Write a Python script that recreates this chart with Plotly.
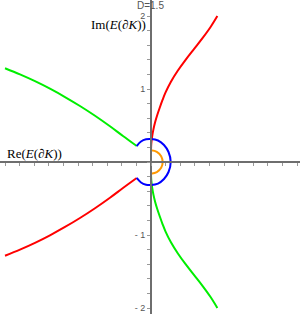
import plotly.graph_objects as go

# ---- data (data units) ----
red_up_x = [0.0, 0.004, 0.016, 0.034, 0.058, 0.088, 0.122, 0.158, 0.198, 0.273, 0.366, 0.474, 0.591, 0.708, 0.816, 0.909]
red_up_y = [0.164, 0.25, 0.35, 0.45, 0.55, 0.65, 0.75, 0.85, 0.95, 1.10, 1.25, 1.40, 1.55, 1.70, 1.85, 2.00]

green_dn_x = [0.0, 0.004, 0.016, 0.034, 0.058, 0.088, 0.122, 0.158, 0.198, 0.273, 0.366, 0.474, 0.591, 0.708, 0.816, 0.909]
green_dn_y = [-0.164, -0.25, -0.35, -0.45, -0.55, -0.65, -0.75, -0.85, -0.95, -1.10, -1.25, -1.40, -1.55, -1.70, -1.85, -2.00]

green_up_x = [-2.000, -1.795, -1.589, -1.384, -1.178, -0.973, -0.767, -0.562, -0.384, -0.196]
green_up_y = [1.284, 1.200, 1.107, 1.004, 0.890, 0.767, 0.633, 0.489, 0.356, 0.219]

red_dn_x = [-2.000, -1.795, -1.589, -1.384, -1.178, -0.973, -0.767, -0.562, -0.384, -0.196]
red_dn_y = [-1.284, -1.200, -1.107, -1.004, -0.890, -0.767, -0.633, -0.489, -0.356, -0.219]

blue_x = [-0.196, -0.137, -0.068, 0.0, 0.096, 0.178, 0.240, 0.270, 0.240, 0.178, 0.096, 0.0, -0.068, -0.137, -0.196]
blue_y = [0.219, 0.281, 0.311, 0.315, 0.295, 0.233, 0.137, 0.0, -0.137, -0.233, -0.295, -0.315, -0.311, -0.281, -0.219]

orange_x = [0.0, 0.080, 0.139, 0.160, 0.139, 0.080, 0.0]
orange_y = [0.160, 0.139, 0.080, 0.0, -0.080, -0.139, -0.160]

y_tick_vals = [round(-2 + 0.2 * i, 1) for i in range(21)]
y_tick_text = {-2.0: "- 2", -1.0: "- 1", 1.0: "1", 2.0: "2"}
x_tick_vals = [round(-2 + 0.2 * i, 1) for i in range(21)]

W, H = 300, 314
x_range = [-151 / 73, 149 / 73]
y_range = [-(H - 162) / 73, 162 / 73]

fig = go.Figure()

def add(x, y, color):
    fig.add_trace(go.Scatter(x=x, y=y, mode="lines",
                             line=dict(color=color, width=2, shape="spline", smoothing=1.0),
                             hoverinfo="skip", showlegend=False))

add(green_up_x, green_up_y, "#00ee00")
add(red_dn_x, red_dn_y, "#ff0000")
add(red_up_x, red_up_y, "#ff0000")
add(green_dn_x, green_dn_y, "#00ee00")
add(blue_x, blue_y, "#0000ff")
add(orange_x, orange_y, "#ff9900")

axis_color = "#6e6e6e"
fig.update_layout(
    width=W, height=H,
    margin=dict(l=0, r=0, t=0, b=0, autoexpand=False),
    paper_bgcolor="white", plot_bgcolor="white",
    xaxis=dict(range=x_range, showgrid=False, zeroline=False, automargin=False,
               anchor="free", position=(0 - y_range[0]) / (y_range[1] - y_range[0]),
               showline=True, linecolor=axis_color, linewidth=2,
               tickmode="array", tickvals=x_tick_vals, ticks="outside",
               ticklen=3, tickcolor="#999", tickwidth=1, showticklabels=False),
    yaxis=dict(range=y_range, showgrid=False, zeroline=False, automargin=False,
               anchor="free", position=(0 - x_range[0]) / (x_range[1] - x_range[0]),
               showline=True, linecolor=axis_color, linewidth=2,
               tickmode="array", tickvals=y_tick_vals,
               ticktext=[y_tick_text.get(v, "") for v in y_tick_vals],
               ticks="outside", ticklen=3, tickcolor="#999", tickwidth=1,
               tickfont=dict(family="Liberation Sans", size=9, color="#555")),
)

fig.add_annotation(text="D=1.5", xref="paper", yref="paper", x=0.5, y=1 - 6 / H,
                   xanchor="center", yanchor="middle", showarrow=False,
                   font=dict(family="Liberation Sans", size=10, color="#555"))
fig.add_annotation(text="Im(<i>E</i>(<i>∂K</i>))", xref="paper", yref="paper",
                   x=148 / W, y=1 - 25 / H, xanchor="right", yanchor="middle",
                   showarrow=False, font=dict(family="Liberation Serif", size=13, color="black"))
fig.add_annotation(text="Re(<i>E</i>(<i>∂K</i>))", xref="paper", yref="paper",
                   x=5 / W, y=1 - 153 / H, xanchor="left", yanchor="middle",
                   showarrow=False, font=dict(family="Liberation Serif", size=13, color="black"))

fig.write_html("out.html", config={"displayModeBar": False},
               post_script="document.body.style.margin='0px';")
